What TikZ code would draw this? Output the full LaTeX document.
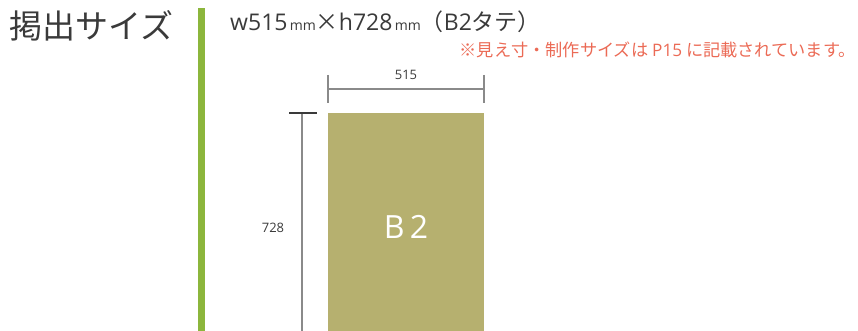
\documentclass[tikz,border=0pt]{standalone}
\usepackage{fontspec}
\setmainfont{Noto Sans CJK JP}
\newfontfamily\latinfont{Open Sans}
\usetikzlibrary{positioning}
\definecolor{barGreen}{HTML}{8CB63C}
\definecolor{sheetOlive}{HTML}{B6B06F}
\definecolor{noteRed}{HTML}{EB6A55}
\definecolor{textGray}{HTML}{3A3A3A}
\definecolor{dimGray}{HTML}{8A8A8A}
\begin{document}
\begin{tikzpicture}[x=1pt,y=-1pt,every node/.style={inner sep=0pt,text=textGray},
  dimline/.style={dimGray,line width=1.1pt}]
  \useasboundingbox (0,0) rectangle (858,331);
  \node[anchor=west,font=\fontsize{33}{33}\selectfont] (title) at (9,26) {掲出サイズ};
  \fill[barGreen] (198,8) rectangle (205,331);
  \node[anchor=west,font=\fontsize{23}{23}\selectfont] (size) at (230,22)
    {{\latinfont w515}{\latinfont\fontsize{14}{14}\selectfont\,mm}×{\latinfont h728}{\latinfont\fontsize{14}{14}\selectfont\,mm}（{\latinfont B2}タテ）};
  \node[anchor=east,text=noteRed,font=\fontsize{17.2}{17.2}\selectfont] (note) at (856,50)
    {※見え寸・制作サイズは {\latinfont P15} に記載されています。};
  % sheet
  \coordinate (tl) at (328,113);
  \coordinate (br) at (484,331);
  \fill[sheetOlive] (tl) rectangle (br);
  \node[text=white,font=\latinfont\fontsize{32}{32}\selectfont] (b2) at (406,227) {B\,2};
  % width
  \coordinate (wl) at (328,89);
  \coordinate (wr) at (484,89);
  \draw[dimline] (wl) -- (wr);
  \draw[dimline] (328,75) -- (328,103);
  \draw[dimline] (484,75) -- (484,103);
  \node[font=\latinfont\fontsize{13}{13}\selectfont] (w) at (406,75) {515};
  % height
  \coordinate (ht) at (302,113);
  \coordinate (hb) at (302,331);
  \draw[dimline] (ht) -- (hb);
  \draw[line width=1.1pt,textGray] (289,113) -- (317,113);
  \node[font=\latinfont\fontsize{13}{13}\selectfont] (h) at (273,228) {728};
\end{tikzpicture}
\end{document}
